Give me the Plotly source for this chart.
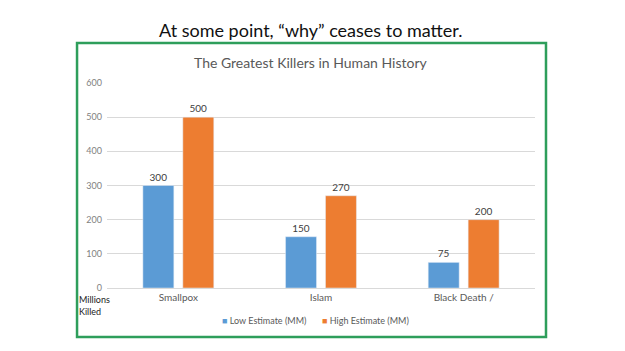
import plotly.graph_objects as go

categories = ["Smallpox", "Islam", "Black Death /"]
low_estimate = [300, 150, 75]
high_estimate = [500, 270, 200]
series_names = ["Low Estimate (MM)", "High Estimate (MM)"]
series_colors = ["#5b9bd5", "#ed7d31"]
y_ticks = [0, 100, 200, 300, 400, 500, 600]

FONT = "Lato, Open Sans, sans-serif"

fig = go.Figure()
for name, vals, col in zip(series_names, [low_estimate, high_estimate], series_colors):
    fig.add_trace(go.Bar(x=categories, y=vals, name=name, marker_color=col,
                         text=vals, textposition="outside",
                         textfont=dict(size=10, color="#404040"), cliponaxis=False))

fig.update_layout(
    width=625, height=351,
    margin=dict(l=107, r=90, t=83, b=63),
    paper_bgcolor="white", plot_bgcolor="white",
    font=dict(family=FONT, size=10, color="#595959"),
    barmode="group", bargap=0.44, bargroupgap=0.225,
    showlegend=False,
    xaxis=dict(showgrid=False, showline=True, linecolor="#d9d9d9", ticks="",
               tickfont=dict(size=10, color="#595959")),
    yaxis=dict(range=[0, 600], tickvals=y_ticks, showgrid=True, gridcolor="#d9d9d9",
               zeroline=False, showline=False, tickfont=dict(size=9, color="#7f7f7f"),
               ticklabelstandoff=4),
)

# legend drawn as text with coloured square glyphs
legend_x = [0.265, 0.497]
for name, col, lx in zip(series_names, series_colors, legend_x):
    fig.add_annotation(text=f"<span style='color:{col}'>\u25a0</span> {name}", xref="paper", yref="paper",
                       x=lx, y=-0.16, showarrow=False, xanchor="left", yanchor="middle",
                       font=dict(size=9, color="#595959", family=FONT))

fig.add_annotation(text="At some point, \u201cwhy\u201d ceases to matter.", xref="paper", yref="paper",
                   x=0.475, y=1.259, showarrow=False, xanchor="center", yanchor="middle",
                   font=dict(size=18, color="#111111", family=FONT))
fig.add_annotation(text="The Greatest Killers in Human History", xref="paper", yref="paper",
                   x=0.477, y=1.102, showarrow=False, xanchor="center", yanchor="middle",
                   font=dict(size=14, color="#595959", family=FONT))
fig.add_annotation(text="Millions<br>Killed", xref="paper", yref="paper",
                   x=-0.07, y=-0.02, showarrow=False, xanchor="left", yanchor="top", align="left",
                   font=dict(size=9, color="#222222", family=FONT))

fig.add_shape(type="rect", xref="paper", yref="paper", x0=-0.070, x1=1.0257, y0=-0.239, y1=1.195,
              line=dict(color="#2e9e5b", width=2.5), layer="below")

fig.write_html("out.html")
